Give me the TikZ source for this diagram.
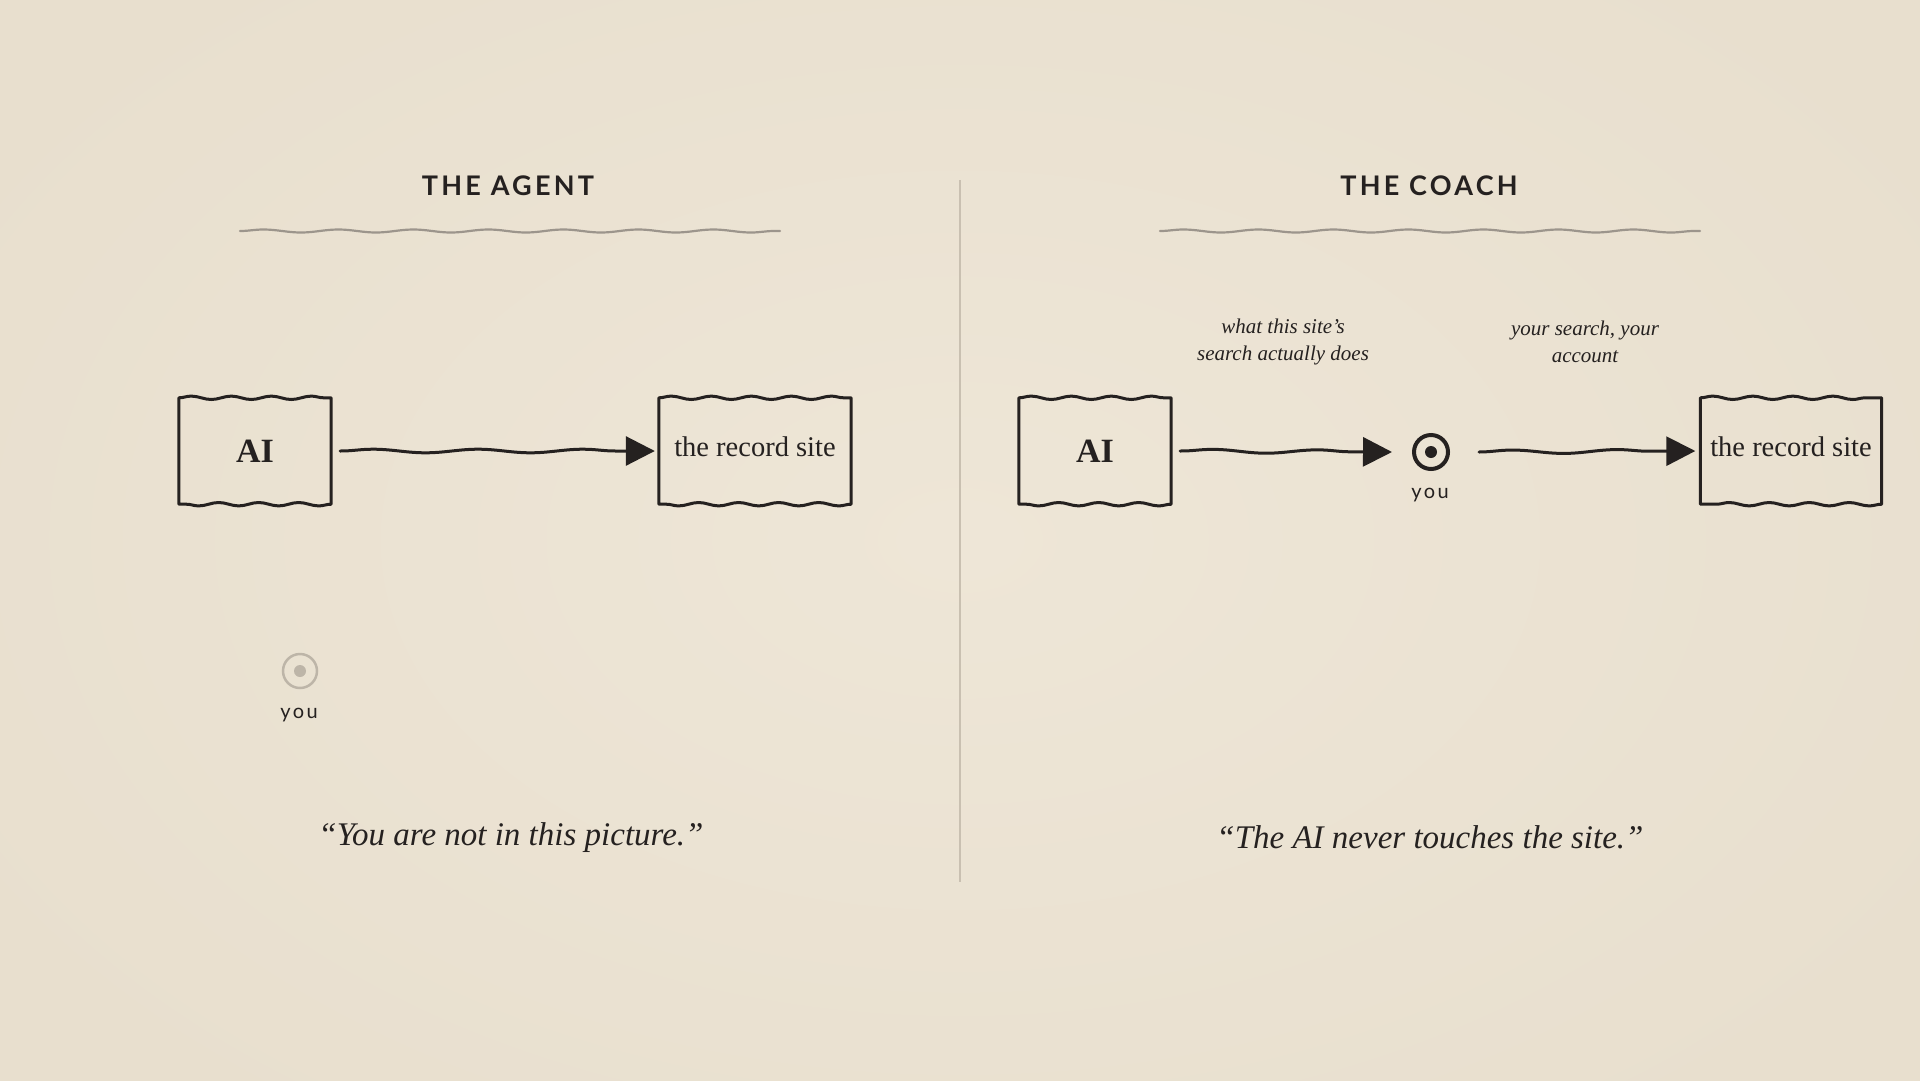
\documentclass[tikz,border=0pt]{standalone}
\usepackage{fontspec}
\setmainfont{Liberation Serif}
\newfontfamily\labfont[LetterSpace=12]{Lato}
\usetikzlibrary{arrows.meta,decorations.pathmorphing}
\definecolor{bgin}{HTML}{EEE6D7}
\definecolor{bgout}{HTML}{E8DFCE}
\definecolor{ink}{HTML}{252120}
\definecolor{rulec}{HTML}{9C958C}
\definecolor{divc}{HTML}{C9C0B1}
\definecolor{faint}{HTML}{BDB5A8}
\tikzset{
  boxn/.style={inner sep=0pt, minimum height=106pt, text=ink},
  boxline/.style={line width=3pt, draw=ink, line join=round, line cap=round},
  wav/.style={decoration={snake, amplitude=1.7pt, segment length=40pt}},
  arr/.style={line width=3pt, draw=ink, line cap=round, -{Triangle[length=29pt,width=29pt]},
    decorate, decoration={snake, amplitude=1.8pt, segment length=105pt, post length=32pt}},
  ruleline/.style={line width=2.2pt, draw=rulec, line cap=round,
    decorate, decoration={snake, amplitude=1.5pt, segment length=75pt}},
  title/.style={text=ink, font=\labfont\bfseries\fontsize{27}{32}\selectfont},
  youtxt/.style={text=ink, font=\labfont\fontsize{20}{24}\selectfont},
  quote/.style={text=ink, font=\itshape\fontsize{33}{38}\selectfont},
  note/.style={text=ink, align=center, font=\itshape\fontsize{21}{27}\selectfont},
  boxtxt/.style={font=\fontsize{28.5}{32}\selectfont},
  aitxt/.style={font=\bfseries\fontsize{34}{40}\selectfont},
}
\newcommand{\wavybox}[1]{%
  \draw[boxline] (#1.north west) decorate[wav]{-- (#1.north east)} -- (#1.south east)
    decorate[wav]{-- (#1.south west)} -- cycle;}
\begin{document}
\begin{tikzpicture}[x=1pt,y=-1pt]
\useasboundingbox (0,0) rectangle (1920,1080);
\shade[inner color=bgin, outer color=bgout] (-200,-200) rectangle (2120,1280);

% divider
\draw[divc, line width=2.5pt] (960,180) -- (960,882);

% titles
\node[title] (tL) at (508,186) {THE AGENT};
\node[title] (tR) at (1429,186) {THE COACH};
\draw[ruleline] (240,231) -- (780,231);
\draw[ruleline] (1160,231) -- (1700,231);

% left panel
\node[boxn, minimum width=152pt, aitxt] (aiL) at (255,451) {AI};
\node[boxn, minimum width=192pt, boxtxt] (recL) at (755,451) {\raisebox{8pt}{the record site}};
\wavybox{aiL}
\wavybox{recL}
\draw[arr] ([xshift=9pt]aiL.east) -- ([xshift=-4pt]recL.west);

\node[circle, draw=faint, line width=2.5pt, minimum size=34pt, inner sep=0pt] (youL) at (300,671) {};
\fill[faint] (youL.center) circle (6pt);
\node[youtxt] (youLt) at (299,715) {you};

\node[quote] (qL) at (511,838) {“You are not in this picture.”};

% right panel
\node[boxn, minimum width=152pt, aitxt] (aiR) at (1095,451) {AI};
\node[boxn, minimum width=181pt, boxtxt] (recR) at (1791,451) {\raisebox{8pt}{the record site}};
\wavybox{aiR}
\wavybox{recR}

\node[circle, draw=ink, line width=4pt, minimum size=34pt, inner sep=0pt] (youR) at (1431,452) {};
\fill[ink] (youR.center) circle (6pt);
\node[youtxt] (youRt) at (1430,495) {you};

\draw[arr] ([xshift=9pt]aiR.east) -- ([xshift=-20pt]youR.west);
\draw[arr] ([xshift=29pt]youR.east) -- ([xshift=-5pt]recR.west);

\node[note] (n1) at (1283,342) {what this site’s\\search actually does};
\node[note] (n2) at (1585,342) {your search, your\\account};

\node[quote] (qR) at (1430,837) {“The AI never touches the site.”};
\end{tikzpicture}
\end{document}
